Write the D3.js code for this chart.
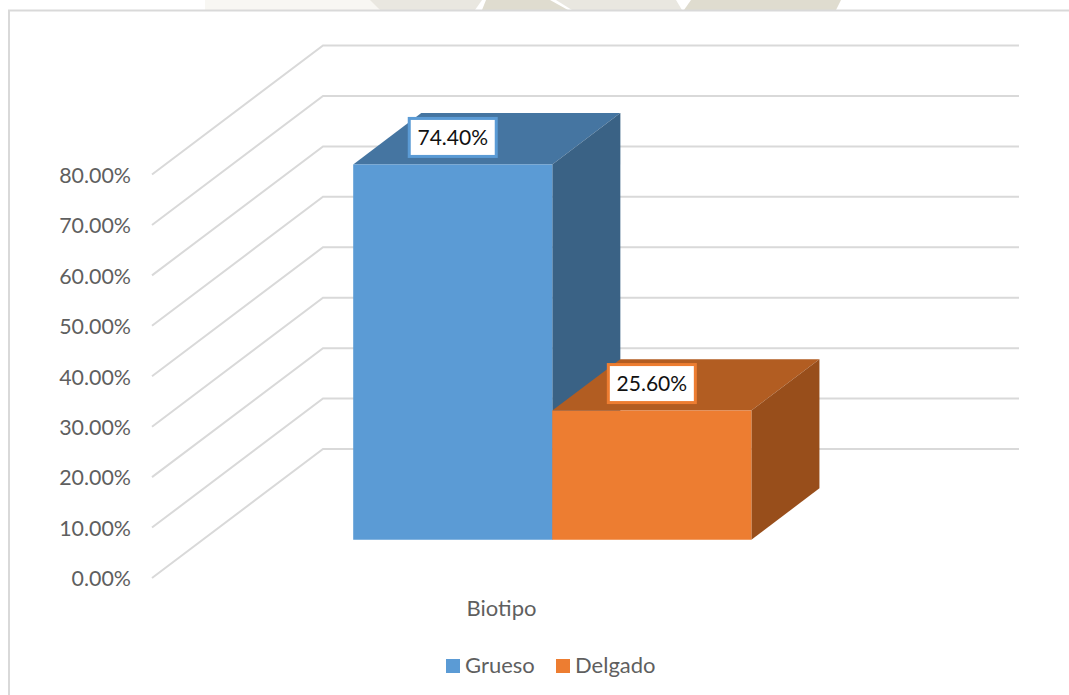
<!DOCTYPE html>
<html>
<head>
<meta charset="utf-8">
<script src="https://cdn.jsdelivr.net/npm/d3@7"></script>
<style>
  html, body { margin: 0; padding: 0; background: #fff; overflow: hidden; }
  svg { display: block; }
  text { font-family: Lato, "Open Sans", sans-serif; }
</style>
</head>
<body>
<div id="chart"></div>
<script>
// Chart content
const category = "Biotipo";
const seriesNames = ["Grueso", "Delgado"];
const seriesValues = [0.744, 0.256];
const tickValues = [0, 0.1, 0.2, 0.3, 0.4, 0.5, 0.6, 0.7, 0.8];

// Colours per series: front, top and side faces of each box
const frontColors = ["#5b9bd5", "#ed7d31"];
const topColors = ["#4575a1", "#b25d22"];
const sideColors = ["#3a6285", "#984e1b"];

const width = 1069, height = 695;
const svg = d3.select("#chart").append("svg")
  .attr("width", width).attr("height", height);

// Decorative band showing above the chart frame
const bandShapes = [
  { fill: "#f8f7f3", pts: [[205, 0], [372, 0], [380, 10], [205, 10]] },
  { fill: "#e9e7e0", pts: [[370, 0], [482, 0], [475, 10], [380, 10]] },
  { fill: "#dfdccf", pts: [[486, 0], [550, 0], [568, 10], [482, 10]] },
  { fill: "#e9e7e0", pts: [[556, 0], [676, 0], [682, 10], [572, 10]] },
  { fill: "#dfdccf", pts: [[691, 0], [841, 0], [836, 10], [684, 10]] }
];
svg.append("g").selectAll("polygon").data(bandShapes).join("polygon")
  .attr("points", d => d.pts.join(" "))
  .attr("fill", d => d.fill);

// Chart frame: only the top and left edges are visible
svg.append("path")
  .attr("d", d3.line()([[9, height], [9, 10.5], [width, 10.5]]))
  .attr("fill", "none").attr("stroke", "#d9d9d9").attr("stroke-width", 2);

// Scales: value on the front plane, category along the floor, and depth into the box
const y = d3.scaleLinear().domain([0, 0.8]).range([578, 174.5]);
const plotX = d3.scaleBand().domain([category]).range([153.5, 849.5]).paddingInner(0).paddingOuter(0.374);
const barX = d3.scaleBand().domain(seriesNames).range([plotX(category), plotX(category) + plotX.bandwidth()]);
const depthX = d3.scaleLinear().domain([0, 1]).range([0, 171]);
const depthY = d3.scaleLinear().domain([0, 1]).range([0, -129]);

// Gridlines run across the left wall and then along the back wall
const grid = svg.append("g");
grid.selectAll("path").data(tickValues).join("path")
  .attr("fill", "none").attr("stroke", "#d9d9d9").attr("stroke-width", 2)
  .attr("d", v => d3.line()([
    [152, y(v)],
    [152 + depthX(1), y(v) + depthY(1)],
    [848 + depthX(1), y(v) + depthY(1)]
  ]));

// Value axis
const axis = svg.append("g").attr("transform", "translate(152,1)")
  .call(d3.axisLeft(y).tickValues(tickValues).tickSize(0).tickPadding(21).tickFormat(d3.format(".2%")));
axis.select(".domain").remove();
axis.selectAll("text").attr("font-size", 21.4).attr("fill", "#5f5f5f")
  .style("font-family", "Lato, 'Open Sans', sans-serif");

// Boxes sit between these two depths on the floor
const depthFront = 0.297, depthBack = 0.695;

const bars = svg.append("g").selectAll("g")
  .data(seriesNames.map((name, i) => ({ name, value: seriesValues[i], i })))
  .join("g");

const faceCoords = d => {
  const x0 = barX(d.name) + depthX(depthFront);
  const x1 = x0 + barX.bandwidth();
  const base = y(0) + depthY(depthFront);
  const top = y(d.value) + depthY(depthFront);
  const dx = depthX(depthBack - depthFront);
  const dy = depthY(depthBack - depthFront);
  return { x0, x1, base, top, dx, dy };
};

bars.append("path").attr("fill", d => topColors[d.i]).attr("d", d => {
  const c = faceCoords(d);
  return d3.line()([[c.x0, c.top], [c.x0 + c.dx, c.top + c.dy], [c.x1 + c.dx, c.top + c.dy], [c.x1, c.top]]) + "Z";
});
bars.append("path").attr("fill", d => sideColors[d.i]).attr("d", d => {
  const c = faceCoords(d);
  return d3.line()([[c.x1, c.top], [c.x1 + c.dx, c.top + c.dy], [c.x1 + c.dx, c.base + c.dy], [c.x1, c.base]]) + "Z";
});
bars.append("path").attr("fill", d => frontColors[d.i]).attr("d", d => {
  const c = faceCoords(d);
  return d3.line()([[c.x0, c.top], [c.x1, c.top], [c.x1, c.base], [c.x0, c.base]]) + "Z";
});

// Data labels in white callout boxes, centred above the front face
const labels = svg.append("g").selectAll("g")
  .data(seriesNames.map((name, i) => ({ name, value: seriesValues[i], i })))
  .join("g")
  .attr("transform", d => {
    const c = faceCoords(d);
    return `translate(${(c.x0 + c.x1) / 2},${c.top - 27})`;
  });
labels.append("rect")
  .attr("x", -43.5).attr("y", -19).attr("width", 87).attr("height", 38)
  .attr("fill", "#fff").attr("stroke", d => frontColors[d.i]).attr("stroke-width", 3);
labels.append("text")
  .attr("text-anchor", "middle").attr("dy", "0.36em")
  .attr("font-size", 21).attr("fill", "#111")
  .text(d => d3.format(".2%")(d.value));

// Category label
svg.append("text")
  .attr("x", plotX(category) + plotX.bandwidth() / 2).attr("y", 616)
  .attr("text-anchor", "middle").attr("font-size", 22).attr("fill", "#5f5f5f")
  .text(category);

// Legend
const legendX = [446, 556];
const legend = svg.append("g").selectAll("g").data(seriesNames).join("g")
  .attr("transform", (d, i) => `translate(${legendX[i]},659)`);
legend.append("rect").attr("width", 14).attr("height", 14)
  .attr("fill", (d, i) => frontColors[i]);
legend.append("text").attr("x", 19).attr("y", 14)
  .attr("font-size", 22).attr("fill", "#5f5f5f").text(d => d);
</script>
</body>
</html>
